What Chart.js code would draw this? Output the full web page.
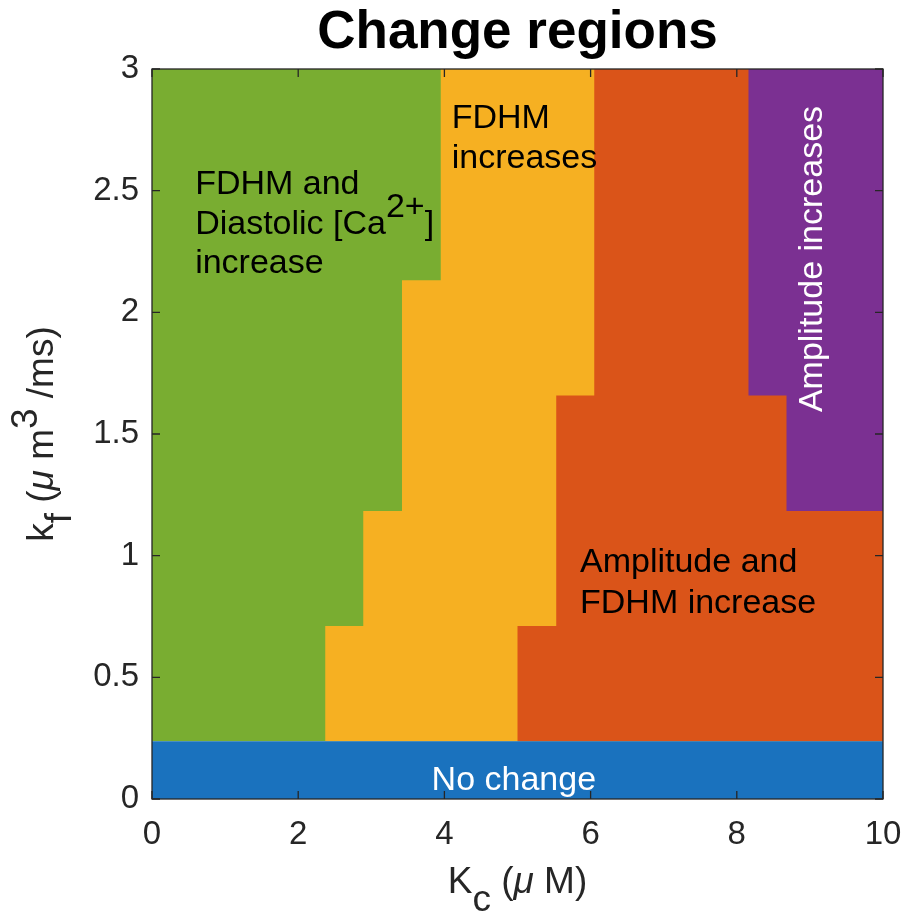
<!DOCTYPE html>
<html>
<head>
<meta charset="utf-8">
<script src="https://cdn.jsdelivr.net/npm/chart.js@4"></script>
<style>
  html, body { margin: 0; padding: 0; background: #fff; }
  #wrap { width: 909px; height: 921px; }
</style>
</head>
<body>
<div id="wrap"><canvas id="regionChart" width="909" height="921"></canvas></div>
<script>
// band edges along k_f (y), and where each region starts along K_c (x) in each band above "No change"
const bandEdges = [0, 0.237, 0.711, 1.184, 1.658, 2.132, 3];
const yellowStart = [2.37, 2.89, 3.42, 3.42, 3.95];
const orangeStart = [5.0, 5.53, 5.53, 6.05, 6.05];
const purpleStart = [10, 10, 8.68, 8.16, 8.16];
const xTicks = [0, 2, 4, 6, 8, 10];
const yTicks = [0, 0.5, 1, 1.5, 2, 2.5, 3];

const FONT = '"Liberation Sans", Arial, Helvetica, sans-serif';
const INK = "#262626";

// staircase polygon: left edge follows starts[], right edge at x = 10
const stairs = (starts) => {
  const pts = [{ x: 10, y: bandEdges[1] }];
  starts.forEach((s, i) => {
    pts.push({ x: s, y: bandEdges[i + 1] });
    pts.push({ x: s, y: bandEdges[i + 2] });
  });
  pts.push({ x: 10, y: bandEdges[bandEdges.length - 1] });
  pts.push({ x: 10, y: bandEdges[1] });
  return pts;
};
const rect = (x0, x1, y0, y1) => [
  { x: x0, y: y0 }, { x: x1, y: y0 }, { x: x1, y: y1 }, { x: x0, y: y1 }, { x: x0, y: y0 },
];

const region = (label, data, color, order) => ({
  label, data, order,
  showLine: true, fill: "shape",
  backgroundColor: color, borderColor: "transparent", borderWidth: 0,
  pointRadius: 0, pointHoverRadius: 0, tension: 0,
});

// rich text: parts drawn one after another, dy shifts sub/superscripts
function drawRich(ctx, parts, x, y, size, align) {
  const fontOf = (p) => (p.italic ? "italic " : "") + size + "px " + FONT;
  let total = 0;
  parts.forEach((p) => { ctx.font = fontOf(p); total += ctx.measureText(p.t).width; });
  let cx = align === "center" ? x - total / 2 : x;
  ctx.textAlign = "left";
  ctx.textBaseline = "alphabetic";
  parts.forEach((p) => {
    ctx.font = fontOf(p);
    ctx.fillText(p.t, cx, y + (p.dy || 0));
    cx += ctx.measureText(p.t).width;
  });
}

const decorations = {
  id: "decorations",
  afterDraw(chart) {
    const { ctx, chartArea: a, scales: { x, y } } = chart;
    ctx.save();

    // box and inward ticks
    ctx.strokeStyle = INK;
    ctx.lineWidth = 1.3;
    ctx.strokeRect(a.left, a.top, a.right - a.left, a.bottom - a.top);
    ctx.beginPath();
    xTicks.forEach((v) => {
      const px = x.getPixelForValue(v);
      ctx.moveTo(px, a.bottom); ctx.lineTo(px, a.bottom - 8);
      ctx.moveTo(px, a.top); ctx.lineTo(px, a.top + 8);
    });
    yTicks.forEach((v) => {
      const py = y.getPixelForValue(v);
      ctx.moveTo(a.left, py); ctx.lineTo(a.left + 8, py);
      ctx.moveTo(a.right, py); ctx.lineTo(a.right - 8, py);
    });
    ctx.stroke();

    // region labels
    const X = (v) => x.getPixelForValue(v), Y = (v) => y.getPixelForValue(v);
    const fs = 34;
    ctx.fillStyle = "#000";
    drawRich(ctx, [{ t: "FDHM and" }], X(0.59), Y(2.486), fs);
    drawRich(ctx, [{ t: "Diastolic [Ca" }, { t: "2+", dy: -17 }, { t: "]" }], X(0.59), Y(2.322), fs);
    drawRich(ctx, [{ t: "increase" }], X(0.59), Y(2.162), fs);
    drawRich(ctx, [{ t: "FDHM" }], X(4.1), Y(2.758), fs);
    drawRich(ctx, [{ t: "increases" }], X(4.1), Y(2.593), fs);
    drawRich(ctx, [{ t: "Amplitude and" }], X(5.855), Y(0.933), fs);
    drawRich(ctx, [{ t: "FDHM increase" }], X(5.855), Y(0.764), fs);
    ctx.fillStyle = "#fff";
    drawRich(ctx, [{ t: "No change" }], X(4.95), Y(0.037), fs, "center");
    ctx.save();
    ctx.translate(X(9.165), Y(1.59));
    ctx.rotate(-Math.PI / 2);
    drawRich(ctx, [{ t: "Amplitude increases" }], 0, 0, fs);
    ctx.restore();

    // title
    ctx.fillStyle = "#000";
    ctx.font = "bold 53px " + FONT;
    ctx.textAlign = "center";
    ctx.textBaseline = "alphabetic";
    ctx.fillText("Change regions", (a.left + a.right) / 2, 48);

    // axis titles
    ctx.fillStyle = INK;
    drawRich(ctx, [{ t: "K" }, { t: "c", dy: 18 }, { t: " (" }, { t: "\u03bc", italic: true }, { t: " M)" }],
      (a.left + a.right) / 2, 893, 37, "center");
    ctx.save();
    ctx.translate(53, (a.top + a.bottom) / 2);
    ctx.rotate(-Math.PI / 2);
    drawRich(ctx, [{ t: "k" }, { t: "f", dy: 18 }, { t: " (" }, { t: "\u03bc", italic: true },
      { t: " m" }, { t: "3", dy: -16 }, { t: " /ms)" }], 0, 0, 37, "center");
    ctx.restore();

    ctx.restore();
  },
};

new Chart(document.getElementById("regionChart"), {
  type: "scatter",
  data: {
    datasets: [
      region("No change", rect(0, 10, bandEdges[0], bandEdges[1]), "#1a72be", 1),
      region("Amplitude increases", stairs(purpleStart), "#7b3092", 2),
      region("Amplitude and FDHM increase", stairs(orangeStart), "#da5419", 3),
      region("FDHM increases", stairs(yellowStart), "#f6b022", 4),
      region("FDHM and Diastolic [Ca2+] increase", rect(0, 10, bandEdges[1], 3), "#79ad31", 5),
    ],
  },
  options: {
    responsive: false,
    animation: false,
    events: [],
    layout: { padding: { left: 0, right: 26, top: 69, bottom: 0 } },
    plugins: { legend: { display: false }, tooltip: { enabled: false }, title: { display: false } },
    scales: {
      x: {
        type: "linear", min: 0, max: 10,
        afterBuildTicks: (s) => { s.ticks = xTicks.map((v) => ({ value: v })); },
        afterFit: (s) => { s.height = 122; s.paddingLeft = 0; s.paddingRight = 0; },
        grid: { display: false, drawTicks: false },
        border: { display: false },
        ticks: { color: INK, font: { size: 33, family: FONT }, padding: 16, callback: (v) => String(v) },
      },
      y: {
        type: "linear", min: 0, max: 3,
        afterBuildTicks: (s) => { s.ticks = yTicks.map((v) => ({ value: v })); },
        afterFit: (s) => { s.width = 152; s.paddingTop = 0; s.paddingBottom = 0; },
        grid: { display: false, drawTicks: false },
        border: { display: false },
        ticks: { color: INK, font: { size: 33, family: FONT }, padding: 13, callback: (v) => String(v) },
      },
    },
  },
  plugins: [decorations],
});
</script>
</body>
</html>
